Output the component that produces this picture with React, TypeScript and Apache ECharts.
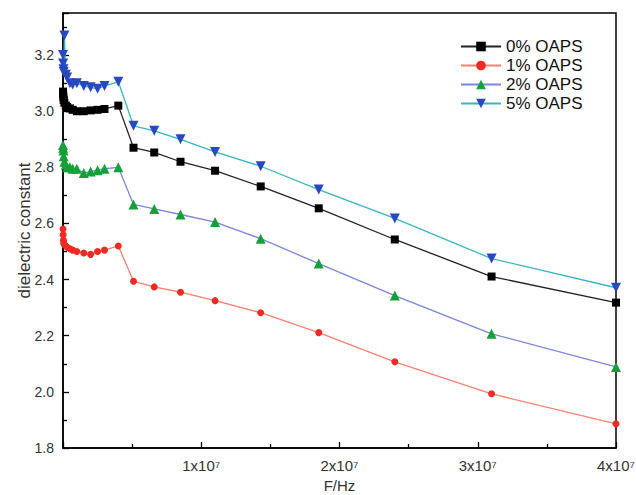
import React, { useEffect, useRef } from "react";
import * as echarts from "echarts";

const freq = [1e3, 1e4, 3e4, 5e4, 1e5, 2e5, 3e5, 5e5, 7e5, 1e6, 1.5e6, 2e6, 2.5e6, 3e6, 4e6, 5.1e6, 6.6e6, 8.5e6, 1.1e7, 1.43e7, 1.85e7, 2.4e7, 3.1e7, 4e7];
const oaps0 = [3.07, 3.06, 3.05, 3.04, 3.03, 3.02, 3.015, 3.01, 3.005, 3.0, 3.0, 3.003, 3.005, 3.008, 3.02, 2.87, 2.853, 2.82, 2.788, 2.732, 2.654, 2.543, 2.411, 2.318];
const oaps1 = [2.58, 2.56, 2.54, 2.53, 2.525, 2.52, 2.515, 2.51, 2.505, 2.5, 2.495, 2.49, 2.5, 2.505, 2.52, 2.394, 2.374, 2.355, 2.325, 2.282, 2.211, 2.107, 1.993, 1.886];
const oaps2 = [2.88, 2.87, 2.86, 2.84, 2.82, 2.81, 2.8, 2.8, 2.795, 2.795, 2.78, 2.785, 2.79, 2.795, 2.8, 2.668, 2.652, 2.632, 2.605, 2.546, 2.457, 2.343, 2.207, 2.089];
const oaps5 = [3.2, 3.17, 3.15, 3.14, 3.27, 3.13, 3.12, 3.1, 3.095, 3.1, 3.09, 3.085, 3.08, 3.09, 3.105, 2.948, 2.93, 2.9, 2.855, 2.804, 2.721, 2.618, 2.475, 2.371];
const seriesNames = ["0% OAPS", "1% OAPS", "2% OAPS", "5% OAPS"];
const xTickStep = 1e7;
const yTickStep = 0.2;

const pair = (ys: number[]) => freq.map((f, i) => [f, ys[i]]);

export default function App() {
  const ref = useRef<HTMLDivElement>(null);
  useEffect(() => {
    const chart = echarts.init(ref.current!, null, { renderer: "svg" });
    const family = "Liberation Sans, Arial, sans-serif";
    chart.setOption({
      animation: false,
      backgroundColor: "#fff",
      grid: {
        left: 63, right: 20, top: 13, bottom: 47,
        outerBoundsMode: "none",
        containLabel: false,
        show: true, borderColor: "#000", borderWidth: 1.5, backgroundColor: "transparent",
      },
      legend: {
        orient: "vertical",
        left: 455,
        top: 33,
        itemWidth: 40,
        itemHeight: 12,
        itemGap: 2,
        textStyle: { fontFamily: family, fontSize: 17, color: "#111" },
        data: seriesNames,
      },
      xAxis: {
        type: "value",
        min: 0,
        max: 4e7,
        interval: xTickStep,
        name: "F/Hz",
        nameLocation: "middle",
        nameGap: 30,
        nameMoveOverlap: false,
        nameTextStyle: { fontFamily: family, fontSize: 15, color: "#333" },
        axisLine: { lineStyle: { color: "#000", width: 1.5 } },
        axisTick: { inside: true, length: 6, lineStyle: { color: "#000", width: 1.3 } },
        minorTick: { show: true, splitNumber: 2, length: 4, lineStyle: { color: "#000", width: 1.3 } },
        splitLine: { show: false },
        axisLabel: {
          showMinLabel: false,
          margin: 10,
          fontFamily: family,
          fontSize: 15,
          color: "#333",
          formatter: (v: number) => (v === 0 ? "" : `${Math.round(v / 1e7)}x10\u2077`),
        },
      },
      yAxis: {
        type: "value",
        min: 1.8,
        max: 3.35,
        interval: yTickStep,
        name: "dielectric constant",
        nameLocation: "middle",
        nameGap: 30,
        nameMoveOverlap: false,
        nameTextStyle: { fontFamily: family, fontSize: 17, color: "#333" },
        axisLine: { lineStyle: { color: "#000", width: 1.5 } },
        axisTick: { inside: true, length: 6, lineStyle: { color: "#000", width: 1.3 } },
        minorTick: { show: true, splitNumber: 2, length: 4, lineStyle: { color: "#000", width: 1.3 } },
        splitLine: { show: false },
        axisLabel: {
          fontFamily: family,
          fontSize: 14,
          color: "#333",
          showMaxLabel: false,
          margin: 9,
          formatter: (v: number) => v.toFixed(1),
        },
      },
      series: [
        {
          name: seriesNames[0], type: "line", data: pair(oaps0),
          symbol: "rect", symbolSize: 8,
          lineStyle: { color: "#222", width: 1.3 },
          itemStyle: { color: "#000" },
        },
        {
          name: seriesNames[1], type: "line", data: pair(oaps1),
          symbol: "circle", symbolSize: 7,
          lineStyle: { color: "#f88070", width: 1.3 },
          itemStyle: { color: "#ee2a22" },
        },
        {
          name: seriesNames[2], type: "line", data: pair(oaps2),
          symbol: "triangle", symbolSize: 10,
          lineStyle: { color: "#7a86d8", width: 1.3 },
          itemStyle: { color: "#16a03a" },
        },
        {
          name: seriesNames[3], type: "line", data: pair(oaps5),
          symbol: "triangle", symbolSize: 10, symbolRotate: 180,
          lineStyle: { color: "#38b4c4", width: 1.3 },
          itemStyle: { color: "#2848c0" },
        },
      ],
    });
    return () => chart.dispose();
  }, []);
  return <div ref={ref} style={{ position: "fixed", left: 0, top: 0, width: 636, height: 495 }} />;
}
